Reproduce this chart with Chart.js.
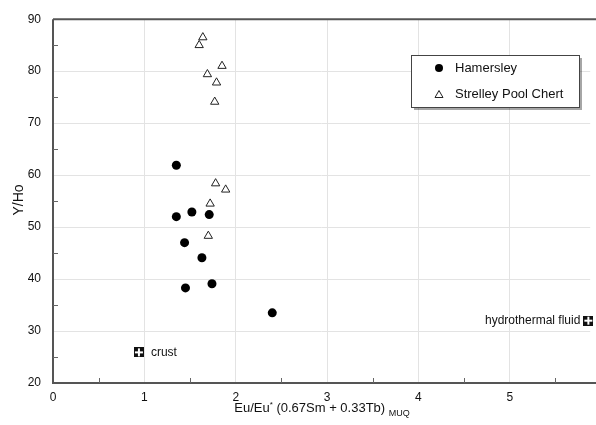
<!DOCTYPE html>
<html>
<head>
<meta charset="utf-8">
<script src="https://cdn.jsdelivr.net/npm/chart.js@4.4.1/dist/chart.umd.min.js"></script>
<style>
  html, body { margin: 0; padding: 0; background: #fff; }
  #wrap { width: 596px; height: 425px; }
</style>
</head>
<body>
<div id="wrap"><canvas id="chart" width="596" height="425"></canvas></div>
<script>
// values
const hamersleyX = [1.35, 1.35, 1.52, 1.71, 1.44, 1.63, 1.45, 1.74, 2.40];
const hamersleyY = [61.9, 52.0, 52.9, 52.4, 47.0, 44.1, 38.3, 39.1, 33.5];
const strelleyX = [1.64, 1.60, 1.85, 1.69, 1.79, 1.77, 1.78, 1.89, 1.72, 1.70];
const strelleyY = [86.5, 85.0, 81.0, 79.4, 77.8, 74.1, 58.4, 57.2, 54.5, 48.3];
const endMemberNames = ["crust", "hydrothermal fluid"];
const endMemberX = [0.94, 5.86];
const endMemberY = [25.9, 32.0];
const xTicks = [0, 1, 2, 3, 4, 5];
const yTicks = [20, 30, 40, 50, 60, 70, 80, 90];

const FONT = "'Liberation Sans', Arial, sans-serif";

function pairs(xs, ys) {
  return xs.map((x, i) => ({ x: x, y: ys[i] }));
}

// black square with a white cross, used for the end members
function crossSquare() {
  const c = document.createElement("canvas");
  c.width = 10; c.height = 10;
  const g = c.getContext("2d");
  g.fillStyle = "#111";
  g.fillRect(0, 0, 10, 10);
  g.fillStyle = "#fff";
  g.fillRect(4, 1, 2, 8);
  g.fillRect(1, 4, 8, 2);
  return c;
}
const squareIcon = crossSquare();

const decorations = {
  id: "decorations",
  afterDraw(chart) {
    const ctx = chart.ctx;
    const area = chart.chartArea;
    const xs = chart.scales.x;
    const ys = chart.scales.y;
    ctx.save();

    // axis frame: left, bottom, top
    ctx.strokeStyle = "#555";
    ctx.lineWidth = 2;
    ctx.beginPath();
    ctx.moveTo(area.left, area.top);
    ctx.lineTo(chart.width, area.top);
    ctx.moveTo(area.left, area.top);
    ctx.lineTo(area.left, area.bottom);
    ctx.lineTo(chart.width, area.bottom);
    ctx.stroke();

    // minor tick marks
    ctx.strokeStyle = "#666";
    ctx.lineWidth = 1;
    ctx.beginPath();
    for (let v = 0.5; v < xs.max; v += 1) {
      const px = Math.round(xs.getPixelForValue(v)) + 0.5;
      ctx.moveTo(px, area.bottom);
      ctx.lineTo(px, area.bottom - 5);
    }
    for (let v = 25; v < ys.max; v += 10) {
      const py = Math.round(ys.getPixelForValue(v)) + 0.5;
      ctx.moveTo(area.left, py);
      ctx.lineTo(area.left + 5, py);
    }
    ctx.stroke();

    // end member labels
    ctx.fillStyle = "#111";
    ctx.font = "12px " + FONT;
    ctx.textBaseline = "middle";
    ctx.textAlign = "left";
    ctx.fillText(endMemberNames[0], xs.getPixelForValue(endMemberX[0]) + 12, ys.getPixelForValue(endMemberY[0]));
    ctx.textAlign = "right";
    ctx.fillText(endMemberNames[1], xs.getPixelForValue(endMemberX[1]) - 8, ys.getPixelForValue(endMemberY[1]));

    // legend box
    const lx = 411, ly = 55, lw = 168, lh = 52;
    ctx.fillStyle = "rgba(0,0,0,0.35)";
    ctx.fillRect(lx + 3, ly + 3, lw, lh);
    ctx.fillStyle = "#fff";
    ctx.fillRect(lx, ly, lw, lh);
    ctx.strokeStyle = "#444";
    ctx.lineWidth = 1;
    ctx.strokeRect(lx + 0.5, ly + 0.5, lw, lh);

    ctx.fillStyle = "#000";
    ctx.beginPath();
    ctx.arc(439, 68, 4, 0, Math.PI * 2);
    ctx.fill();
    ctx.beginPath();
    ctx.moveTo(439, 90.5);
    ctx.lineTo(443, 97.5);
    ctx.lineTo(435, 97.5);
    ctx.closePath();
    ctx.strokeStyle = "#222";
    ctx.stroke();

    ctx.fillStyle = "#111";
    ctx.font = "13px " + FONT;
    ctx.textAlign = "left";
    ctx.fillText(chart.data.datasets[0].label, 455, 68);
    ctx.fillText(chart.data.datasets[1].label, 455, 94);

    // x axis title with superscript and subscript
    const parts = [
      ["Eu/Eu", "13px", 0],
      ["*", "8px", -5],
      [" (0.67Sm + 0.33Tb) ", "13px", 0],
      ["MUQ", "9px", 4]
    ];
    let total = 0;
    parts.forEach(p => { ctx.font = p[1] + " " + FONT; total += ctx.measureText(p[0]).width; });
    let cx = 322 - total / 2;
    const baseY = 412;
    ctx.textBaseline = "alphabetic";
    parts.forEach(p => {
      ctx.font = p[1] + " " + FONT;
      ctx.fillText(p[0], cx, baseY + p[2]);
      cx += ctx.measureText(p[0]).width;
    });

    // y axis title
    ctx.translate(23, 200);
    ctx.rotate(-Math.PI / 2);
    ctx.textAlign = "center";
    ctx.font = "14px " + FONT;
    ctx.fillText("Y/Ho", 0, 0);

    ctx.restore();
  }
};

new Chart(document.getElementById("chart"), {
  type: "scatter",
  data: {
    datasets: [
      {
        label: "Hamersley",
        data: pairs(hamersleyX, hamersleyY),
        pointStyle: "circle",
        pointRadius: 4.5,
        backgroundColor: "#000",
        borderColor: "#000",
        borderWidth: 0
      },
      {
        label: "Strelley Pool Chert",
        data: pairs(strelleyX, strelleyY),
        pointStyle: "triangle",
        pointRadius: 4.8,
        backgroundColor: "#fff",
        borderColor: "#222",
        borderWidth: 1
      },
      {
        label: "end members",
        data: pairs(endMemberX, endMemberY),
        pointStyle: squareIcon,
        clip: false
      }
    ]
  },
  options: {
    responsive: false,
    animation: false,
    layout: { padding: { top: 17, right: 0, left: 0, bottom: 0 } },
    plugins: {
      legend: { display: false },
      tooltip: { enabled: false }
    },
    scales: {
      x: {
        type: "linear",
        min: 0,
        max: 5.88,
        afterBuildTicks(scale) {
          scale.ticks = xTicks.map(v => ({ value: v }));
        },
        afterFit(scale) { scale.height = 42; },
        grid: { color: "#e3e3e3", drawTicks: false },
        border: { display: false },
        ticks: {
          padding: 7,
          color: "#111",
          font: { family: FONT, size: 12 }
        }
      },
      y: {
        type: "linear",
        min: 20,
        max: 90,
        afterBuildTicks(scale) {
          scale.ticks = yTicks.map(v => ({ value: v }));
        },
        afterFit(scale) { scale.width = 53; },
        grid: { color: "#e3e3e3", drawTicks: false },
        border: { display: false },
        ticks: {
          padding: 12,
          color: "#111",
          font: { family: FONT, size: 12 }
        }
      }
    }
  },
  plugins: [decorations]
});
</script>
</body>
</html>
